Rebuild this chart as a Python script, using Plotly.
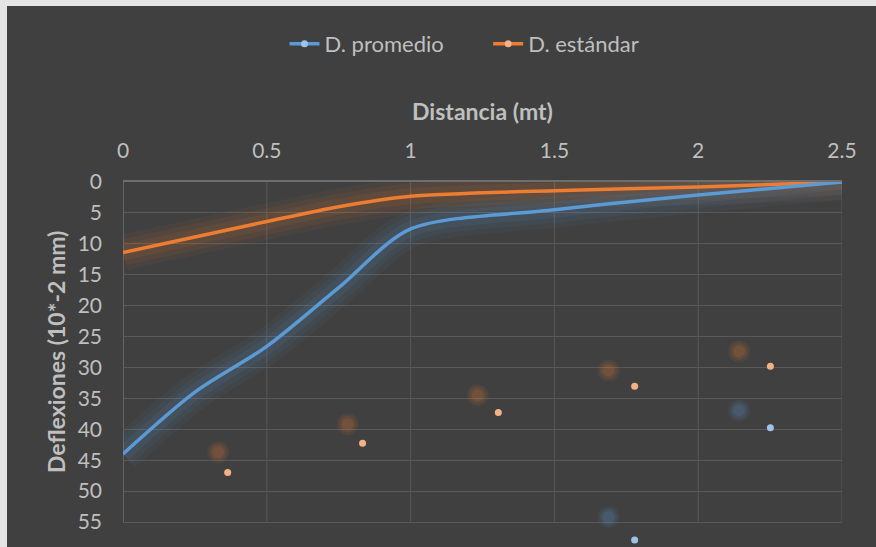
import plotly.graph_objects as go

# ---- data ----
distancia = [0, 0.25, 0.5, 0.75, 1.0, 1.5, 2.0, 2.5]
d_promedio = [44.0, 34.0, 26.6, 17.1, 7.6, 4.5, 2.1, 0.0]
d_estandar = [11.4, 8.9, 6.4, 4.0, 2.3, 1.4, 0.8, 0.0]

# stray (displaced) markers as they appear in the picture
stray_est_x = [0.364, 0.833, 1.305, 1.779, 2.251]
stray_est_y = [47.0, 42.25, 37.3, 33.06, 29.8]
stray_prom_x = [1.779, 2.251]
stray_prom_y = [57.9, 39.76]
# their blurred shadows
shadow_est_x = [0.331, 0.781, 1.233, 1.688, 2.142]
shadow_est_y = [43.7, 39.2, 34.5, 30.5, 27.4]
shadow_prom_x = [1.688, 2.142]
shadow_prom_y = [54.2, 36.95]

x_ticks = [0, 0.5, 1, 1.5, 2, 2.5]
x_ticklabels = ["0", "0.5", "1", "1.5", "2", "2.5"]
y_ticks = list(range(0, 60, 5))

BLUE = "#5B9BD5"
ORANGE = "#ED7D31"
BLUE_L = "#9DC3E6"
ORANGE_L = "#F4B183"
BG = "#404040"
TXT = "#BFBFBF"
GRID = "#595959"
AXLINE = "#6E6E6E"
FONT = "Lato"

# geometry (pixels)
W, H = 876, 547
L, R, T = 123, 34, 182
PLOT_BOTTOM = 522
plot_h_full = H - T
X_MAX = 2.5
Y_MAX = 55
y_full_max = Y_MAX * plot_h_full / (PLOT_BOTTOM - T)


def rgba(hexc, a):
    h = hexc.lstrip("#")
    r, g, b = int(h[0:2], 16), int(h[2:4], 16), int(h[4:6], 16)
    return f"rgba({r},{g},{b},{a})"


fig = go.Figure()

# glow under lines
for col, ys in ((ORANGE, d_estandar), (BLUE, d_promedio)):
    for w, a in ((36, 0.055), (26, 0.065), (16, 0.085)):
        fig.add_trace(go.Scatter(x=distancia, y=ys, mode="lines",
                                 line=dict(color=rgba(col, a), width=w, shape="spline", smoothing=0.8),
                                 showlegend=False, hoverinfo="skip"))

# shadows of stray markers
for col, xs, ys in ((ORANGE, shadow_est_x, shadow_est_y), (BLUE, shadow_prom_x, shadow_prom_y)):
    for s, a in ((22, 0.08), (17, 0.10), (12, 0.14)):
        fig.add_trace(go.Scatter(x=xs, y=ys, mode="markers",
                                 marker=dict(color=rgba(col, a), size=s, line=dict(width=0)),
                                 showlegend=False, hoverinfo="skip"))

# main lines
fig.add_trace(go.Scatter(x=distancia, y=d_estandar, mode="lines",
                         line=dict(color=ORANGE, width=3.5, shape="spline", smoothing=0.8),
                         showlegend=False, name="D. estándar"))
fig.add_trace(go.Scatter(x=distancia, y=d_promedio, mode="lines",
                         line=dict(color=BLUE, width=3.5, shape="spline", smoothing=0.8),
                         showlegend=False, name="D. promedio"))

# stray markers
fig.add_trace(go.Scatter(x=stray_est_x, y=stray_est_y, mode="markers",
                         marker=dict(color=ORANGE_L, size=7, line=dict(width=0)),
                         showlegend=False))
fig.add_trace(go.Scatter(x=stray_prom_x, y=stray_prom_y, mode="markers",
                         marker=dict(color=BLUE_L, size=7, line=dict(width=0)),
                         showlegend=False))

# legend entries
fig.add_trace(go.Scatter(x=[None], y=[None], mode="lines+markers", name="D. promedio       ",
                         line=dict(color=BLUE, width=3.5),
                         marker=dict(color=BLUE_L, size=7, line=dict(width=0))))
fig.add_trace(go.Scatter(x=[None], y=[None], mode="lines+markers", name="D. estándar",
                         line=dict(color=ORANGE, width=3.5),
                         marker=dict(color=ORANGE_L, size=7, line=dict(width=0))))

# vertical grid lines, limited to the 0..55 band
shapes = [dict(type="line", xref="x", yref="y", x0=t, x1=t, y0=0, y1=Y_MAX,
               line=dict(color=GRID, width=1), layer="below") for t in x_ticks]
# left axis line
shapes.append(dict(type="line", xref="x", yref="y", x0=0, x1=0, y0=0, y1=Y_MAX,
                   line=dict(color=AXLINE, width=1.5), layer="below"))
# light frame strips (top and left)
shapes += [
    dict(type="rect", xref="paper", yref="paper", x0=-0.2, x1=1.1,
         y0=(H - 6) / plot_h_full, y1=1.6, fillcolor="#E4E4E4", line=dict(width=0), layer="above"),
    dict(type="rect", xref="paper", yref="paper", x0=-0.2, x1=(7 - L) / (W - L - R),
         y0=-0.2, y1=1.6, fillcolor="#E4E4E4", line=dict(width=0), layer="above"),
]

fig.update_layout(
    width=W, height=H,
    margin=dict(l=L, r=R, t=T, b=0, autoexpand=False),
    paper_bgcolor=BG, plot_bgcolor=BG,
    font=dict(family=FONT, color=TXT, size=21),
    legend=dict(orientation="h", x=0.475, xanchor="center", y=(H - 44) / plot_h_full,
                yanchor="middle",
                font=dict(size=22, color=TXT), bgcolor="rgba(0,0,0,0)",
                traceorder="normal"),
    xaxis=dict(range=[0, X_MAX], side="top", tickvals=x_ticks, ticktext=x_ticklabels,
               showgrid=False, zeroline=False,
               showline=True, linecolor=AXLINE, linewidth=1.5,
               ticks="", ticklabelstandoff=14,
               tickfont=dict(size=21, color=TXT),
               title=dict(text="<b>Distancia (mt)</b>", font=dict(size=23, color=TXT), standoff=10)),
    yaxis=dict(range=[y_full_max, 0], tickvals=y_ticks,
               showgrid=True, gridcolor=GRID, gridwidth=1, zeroline=False,
               showline=False, ticks="", ticklabelstandoff=20,
               tickfont=dict(size=21, color=TXT)),
    annotations=[dict(text="<b>Deflexiones (10*-2 mm)</b>", textangle=-90,
                      xref="paper", yref="paper",
                      x=(56 - L) / (W - L - R), y=(H - 352) / plot_h_full,
                      xanchor="center", yanchor="middle", showarrow=False,
                      font=dict(size=23, color=TXT, family=FONT))],
    shapes=shapes,
)

fig.write_html("out.html")
